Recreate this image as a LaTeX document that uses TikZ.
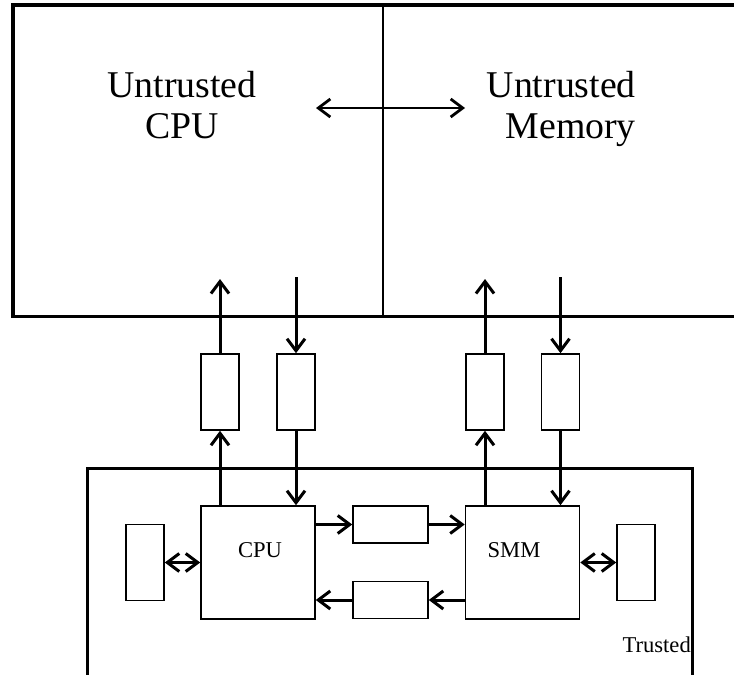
\documentclass[tikz,border=0pt]{standalone}
\usepackage{fontspec}
\setmainfont{Liberation Serif}
\usetikzlibrary{arrows.meta}
\tikzset{
  box/.style={draw, line width=1.6pt, inner sep=0pt, fill=white},
  vbox/.style={box, minimum width=38pt, minimum height=76pt},
  hbox/.style={box, minimum width=75pt, minimum height=37pt},
  bigbox/.style={box, minimum width=114pt, minimum height=113pt},
  tip/.style={Straight Barb[length=12pt,width=18pt]},
  arr/.style={line width=3pt, -{Straight Barb[length=12pt,width=18pt]}},
  darr/.style={line width=3pt, {Straight Barb[length=12pt,width=18pt]}-{Straight Barb[length=12pt,width=18pt]}},
  bigtext/.style={font=\fontsize{37.8}{41}\selectfont, inner sep=0pt},
  smalltext/.style={font=\fontsize{22.6}{26}\selectfont, inner sep=0pt},
}
\begin{document}
\begin{tikzpicture}[x=1pt,y=-1pt]
\useasboundingbox (0,0) rectangle (734,675);
\clip (0,0) rectangle (734,675);
% untrusted region
\draw[line width=3.2pt] (750,5) -- (13,5) -- (13,316.5) -- (750,316.5);
\draw[line width=1.4pt] (383,5) -- (383,316.5);
\node[bigtext, align=center, anchor=north] (ucpu) at (182,71) {Untrusted\\CPU};
\node[bigtext, align=right, anchor=north east] (umem) at (636,71) {Untrusted\\Memory};
\coordinate (ua) at (316,108);
\coordinate (ub) at (465,108);
\draw[darr, line width=2.8pt] (ua) -- (ub);
% trusted region
\draw[line width=3pt] (87,676) -- (87,468) -- (692,468) -- (692,676);
\node[smalltext, anchor=base east] (trusted) at (691,652) {Trusted};
% boxes
\node[vbox] (q1) at (220,392) {};
\node[vbox] (q2) at (296,392) {};
\node[vbox] (q3) at (485,392) {};
\node[vbox] (q4) at (560.5,392) {};
\node[bigbox] (cpu) at (258,562.5) {};
\node[bigbox] (smm) at (522.5,562.5) {};
\node[smalltext, anchor=base] (cpulabel) at (260,557) {CPU};
\node[smalltext, anchor=base] (smmlabel) at (514,557) {SMM};
\node[vbox] (lb) at (145,562.5) {};
\node[vbox] (rb) at (636,562.5) {};
\node[hbox] (m1) at (390.5,524.5) {};
\node[hbox] (m2) at (390.5,600) {};
% top end points
\coordinate (t1) at (220,279);
\coordinate (t2) at (296,277);
\coordinate (t3) at (485,279);
\coordinate (t4) at (560.5,277);
% vertical connectors
\draw[arr] (q1.south |- cpu.north) -- (q1.south);
\draw[arr] (q1.north) -- (t1);
\draw[arr] (t2) -- (q2.north);
\draw[arr] (q2.south) -- (q2.south |- cpu.north);
\draw[arr] (q3.south |- smm.north) -- (q3.south);
\draw[arr] (q3.north) -- (t3);
\draw[arr] (t4) -- (q4.north);
\draw[arr] (q4.south) -- (q4.south |- smm.north);
% horizontal connectors
\draw[arr] (cpu.east |- m1) -- (m1.west);
\draw[arr] (m1.east) -- (smm.west |- m1);
\draw[arr] (smm.west |- m2) -- (m2.east);
\draw[arr] (m2.west) -- (cpu.east |- m2);
\draw[darr] (lb.east) -- (cpu.west |- lb);
\draw[darr] (smm.east |- rb) -- (rb.west);
\end{tikzpicture}
\end{document}
